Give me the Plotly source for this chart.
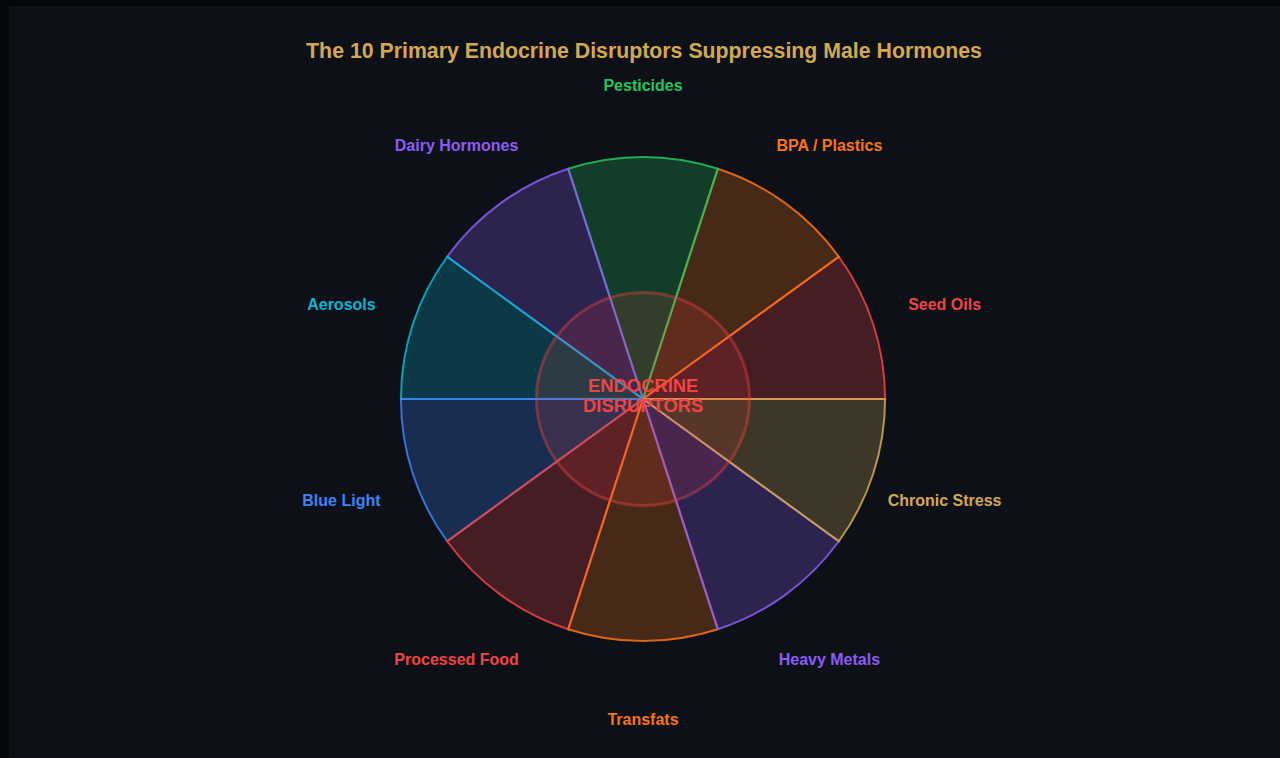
import numpy as np
import plotly.graph_objects as go

# ---- data ----
categories = ["Seed Oils", "BPA / Plastics", "Pesticides", "Dairy Hormones", "Aerosols",
              "Blue Light", "Processed Food", "Transfats", "Heavy Metals", "Chronic Stress"]
values = [1, 1, 1, 1, 1, 1, 1, 1, 1, 1]
colors = ["#ef4444", "#f97316", "#22c55e", "#8b5cf6", "#06b6d4",
          "#3b82f6", "#ef4444", "#f97316", "#8b5cf6", "#d4a853"]
center_lines = ["ENDOCRINE", "DISRUPTORS"]
title_text = "The 10 Primary Endocrine Disruptors Suppressing Male Hormones"
inner_radius = 0.44
label_radius = 1.31
r_max = 1.45

W, H = 1280, 758
CX, CY, R1 = 643, 399, 242          # centre and unit radius in pixels
RP = R1 * r_max
LBL_DY = 5                           # label layer shifted down (px)
ML = 80
PW = 2 * (CX - ML)
MR = W - ML - PW
MT = CY - RP
PH = 2 * RP + LBL_DY
MB = H - MT - PH

n = len(categories)
step = 360 / n
thetas = [step * (i + 0.5) for i in range(n)]
widths = [step] * n


def rgba(h, a):
    h = h.lstrip("#")
    r, g, b = int(h[0:2], 16), int(h[2:4], 16), int(h[4:6], 16)
    return f"rgba({r},{g},{b},{a})"


FONT = "Liberation Sans, Arial, sans-serif"
fig = go.Figure()

fig.add_trace(go.Barpolar(
    r=values, theta=thetas, width=widths,
    marker=dict(color=[rgba(c, 0.25) for c in colors],
                line=dict(color=[rgba(c, 0.85) for c in colors], width=2)),
    hoverinfo="skip", showlegend=False, subplot="polar",
))

# inner circle
circ_t = np.linspace(0, 360, 361)
fig.add_trace(go.Scatterpolar(
    r=[inner_radius] * len(circ_t), theta=circ_t, mode="lines",
    fill="toself", fillcolor="rgba(239,68,68,0.15)",
    line=dict(color="rgba(239,68,68,0.4)", width=3),
    hoverinfo="skip", showlegend=False, subplot="polar",
))

# outer labels
fig.add_trace(go.Scatterpolar(
    r=[label_radius] * n, theta=thetas, mode="text", text=categories,
    textposition="middle center",
    textfont=dict(family=FONT, size=16, color=colors, weight="bold"),
    cliponaxis=False, hoverinfo="skip", showlegend=False, subplot="polar2",
))

shapes = [dict(type="rect", xref="paper", yref="paper", layer="below",
               x0=(9 - ML) / PW, x1=(W + 20 - ML) / PW,
               y0=(H - MB - (H + 20)) / PH, y1=(H - MB - 6) / PH,
               fillcolor="#0d1117", line=dict(width=0))]

yc = (H - MB - CY) / PH  # paper y of polar centre
annotations = [
    dict(text=f"<b>{center_lines[0]}</b>", x=0.5, y=yc, xref="paper", yref="paper",
         showarrow=False, yshift=13,
         font=dict(family=FONT, size=18.4, color="#ef4444")),
    dict(text=f"<b>{center_lines[1]}</b>", x=0.5, y=yc, xref="paper", yref="paper",
         showarrow=False, yshift=-7,
         font=dict(family=FONT, size=18.4, color="#ef4444")),
]

hidden_radial = dict(range=[0, r_max], visible=False, showgrid=False, showline=False,
                     showticklabels=False, ticks="")
hidden_angular = dict(visible=False, showgrid=False, showline=False,
                      showticklabels=False, ticks="", rotation=0, direction="counterclockwise")

fig.update_layout(
    width=W, height=H,
    margin=dict(l=ML, r=MR, t=MT, b=MB, pad=0),
    paper_bgcolor="#05070a",
    plot_bgcolor="rgba(0,0,0,0)",
    title=dict(text=f"<b>{title_text}</b>", x=644 / W, xanchor="center",
               y=1 - 51 / H, yanchor="middle", yref="container",
               font=dict(family=FONT, size=21.3, color="#d4a853")),
    polar=dict(
        bgcolor="rgba(0,0,0,0)",
        domain=dict(x=[0, 1], y=[LBL_DY / PH, 1]),
        radialaxis=hidden_radial, angularaxis=hidden_angular, bargap=0,
    ),
    polar2=dict(
        bgcolor="rgba(0,0,0,0)",
        domain=dict(x=[0, 1], y=[0, 1 - LBL_DY / PH]),
        radialaxis=hidden_radial, angularaxis=hidden_angular,
    ),
    shapes=shapes,
    annotations=annotations,
)

fig.write_html("out.html")
